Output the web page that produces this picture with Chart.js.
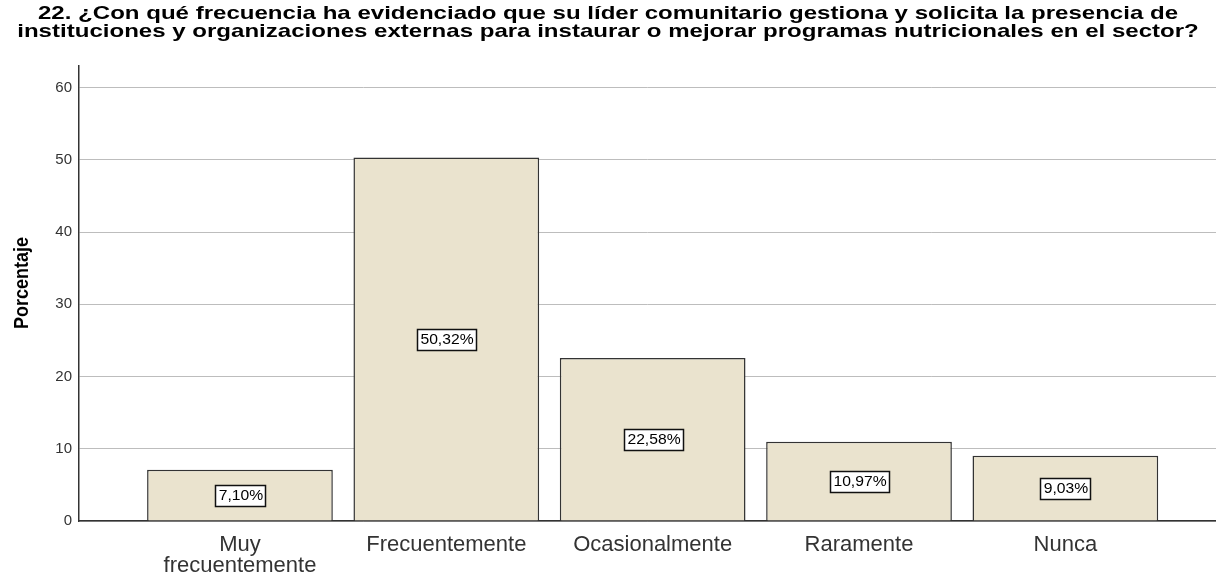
<!DOCTYPE html>
<html>
<head>
<meta charset="utf-8">
<script src="https://cdn.jsdelivr.net/npm/chart.js@4/dist/chart.umd.min.js"></script>
<style>
  html, body { margin: 0; padding: 0; background: #fff; }
  #wrap { width: 1216px; height: 573px; }
</style>
</head>
<body>
<div id="wrap"><canvas id="chart" width="1216" height="573"></canvas></div>
<script>
// data
const categories = [['Muy', 'frecuentemente'], 'Frecuentemente', 'Ocasionalmente', 'Raramente', 'Nunca'];
const percentages = [7.10, 50.32, 22.58, 10.97, 9.03];
const yTicks = [0, 10, 20, 30, 40, 50, 60];
const titleLines = [
  '22. ¿Con qué frecuencia ha evidenciado que su líder comunitario gestiona y solicita la presencia de',
  'instituciones y organizaciones externas para instaurar o mejorar programas nutricionales en el sector?'
];
const yTitle = 'Porcentaje';

const FONT = '"Liberation Sans", Arial, sans-serif';

// title + y axis title, drawn SPSS style (text a bit wide)
const titlePlugin = {
  id: 'spssTitle',
  afterDraw(chart) {
    const ctx = chart.ctx;
    ctx.save();
    ctx.font = 'bold 18.5px ' + FONT;
    ctx.fillStyle = '#000';
    ctx.textAlign = 'center';
    ctx.textBaseline = 'alphabetic';
    ctx.translate(608, 0);
    ctx.scale(1.3, 1);
    ctx.fillText(titleLines[0], 0, 19);
    ctx.fillText(titleLines[1], 0, 36.5);
    ctx.restore();

    ctx.save();
    ctx.font = 'bold 18px ' + FONT;
    ctx.fillStyle = '#000';
    ctx.textAlign = 'center';
    ctx.textBaseline = 'middle';
    ctx.translate(22, 283);
    ctx.rotate(-Math.PI / 2);
    ctx.scale(1, 1.15);
    ctx.fillText(yTitle, 0, 0);
    ctx.restore();
  }
};

// boxed percentage labels in the middle of each bar
const boxLabels = {
  id: 'boxLabels',
  afterDatasetsDraw(chart) {
    const ctx = chart.ctx;
    const meta = chart.getDatasetMeta(0);
    ctx.save();
    ctx.font = '14px ' + FONT;
    ctx.textAlign = 'center';
    ctx.textBaseline = 'middle';
    meta.data.forEach((bar, i) => {
      const txt = percentages[i].toFixed(2).replace('.', ',') + '%';
      const w = Math.round(ctx.measureText(txt).width * 1.12 + 6);
      const h = 21;
      const cx = Math.round(bar.x);
      const cy = Math.round((bar.y + bar.base) / 2);
      const x0 = Math.round(cx - w / 2), y0 = Math.round(cy - h / 2);
      ctx.fillStyle = '#fff';
      ctx.fillRect(x0, y0, w, h);
      ctx.strokeStyle = '#111';
      ctx.lineWidth = 1.5;
      ctx.strokeRect(x0 + 0.5, y0 + 0.5, w, h);
      ctx.fillStyle = '#000';
      ctx.save();
      ctx.translate(cx + 1, cy + 1.5);
      ctx.scale(1.12, 1);
      ctx.fillText(txt, 0, 0);
      ctx.restore();
    });
    ctx.restore();
  }
};

new Chart(document.getElementById('chart').getContext('2d'), {
  type: 'bar',
  data: {
    datasets: [{
      label: 'Porcentaje',
      data: percentages.map((v, i) => ({ x: i, y: v })),
      backgroundColor: '#EAE3CE',
      borderColor: '#333333',
      borderWidth: 1.5,
      barPercentage: 0.9,
      categoryPercentage: 1.0
    }]
  },
  options: {
    responsive: false,
    animation: false,
    layout: { padding: { top: 66, left: 0, right: 0, bottom: 0 } },
    plugins: {
      legend: { display: false },
      title: { display: false },
      tooltip: { enabled: false }
    },
    scales: {
      x: {
        type: 'linear',
        offset: false,
        min: -0.78,
        max: 4.73,
        afterBuildTicks(scale) {
          scale.ticks = categories.map((c, i) => ({ value: i }));
        },
        afterFit(scale) { scale.height = 52; },
        grid: { display: false },
        border: { display: true, color: '#333', width: 1.5 },
        ticks: {
          autoSkip: false,
          maxRotation: 0,
          padding: 5,
          color: '#333',
          font: { family: FONT, size: 22, lineHeight: 0.97 },
          callback: (v) => categories[v]
        }
      },
      y: {
        min: 0,
        max: 63,
        afterBuildTicks(scale) {
          scale.ticks = yTicks.map(v => ({ value: v }));
        },
        afterFit(scale) { scale.width = 79; },
        grid: { color: '#bdbdbd', lineWidth: 1, drawTicks: false },
        border: { display: true, color: '#333', width: 1.5 },
        ticks: {
          padding: 7,
          color: '#333',
          font: { family: FONT, size: 15 }
        }
      }
    }
  },
  plugins: [titlePlugin, boxLabels]
});
</script>
</body>
</html>
